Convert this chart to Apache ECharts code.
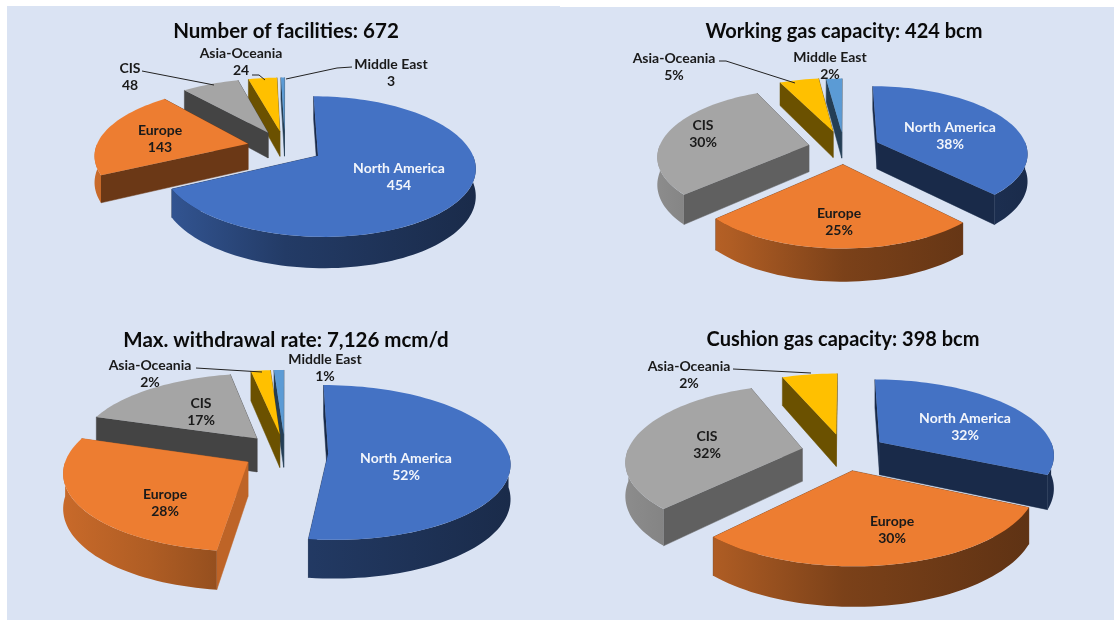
<!DOCTYPE html>
<html><head><meta charset="utf-8">
<style>html,body{margin:0;padding:0;background:#fff}#c{width:1114px;height:620px}</style>
<script src="https://cdn.jsdelivr.net/npm/echarts@6/dist/echarts.min.js"></script>
</head><body><div id="c"></div>
<script>
const categories = ['North America','Europe','CIS','Asia-Oceania','Middle East'];
const sliceColors = ['#4472C4','#ED7D31','#A5A5A5','#FFC000','#5B9BD5'];
const titles = ['Number of facilities: 672','Working gas capacity: 424 bcm','Max. withdrawal rate: 7,126 mcm/d','Cushion gas capacity: 398 bcm'];
// slice sizes
const facilities = [454,143,48,24,3];
const workingGas = [38,25,30,5,2];
const withdrawal = [52,28,17,2,1];
const cushionGas = [32,30,32,6]; // the yellow slice is drawn wider than its printed 2%
// value text as printed
const facilitiesText = ['454','143','48','24','3'];
const workingGasText = ['38%','25%','30%','5%','2%'];
const withdrawalText = ['52%','28%','17%','2%','1%'];
const cushionGasText = ['32%','30%','32%','2%'];

// layout of each 3D pie: projection centre, radii, perspective, depth, explosion
const layouts = [
 {cx:285,cy:147,rx:152,ry:66,p:.15,depth:26,explode:[.25,.25,.25,.25,.25],wall:[.38,.45,.41,.42,.4]},
 {cx:844,cy:148,rx:150,ry:66,p:.15,depth:27,explode:[.24,.24,.24,.27,.25],wall:[.37,.45,.58,.42,.4]},
 {cx:285,cy:452,rx:180,ry:76,p:.12,depth:34,explode:[.24,.24,.24,.24,.24],wall:[.37,.8,.41,.42,.4]},
 {cx:844,cy:452,rx:175,ry:75,p:.15,depth:33,explode:[.245,.245,.245,.245],wall:[.37,.45,.58,.42]}
];
const titlePos = [[286,31],[844,32],[286,340],[843,340]];
const titleSize = [20.5,20,20.5,20];
const labelPos = [
 [[399,168],[160,130],[130,68],[241,53],[391,64]],
 [[950,127],[839,213],[703,125],[674,58],[830,57]],
 [[406,458],[165,494],[201,403],[150,365],[325,359]],
 [[965,418],[892,521],[707,436],[689,366]]
];
const leaders = [
 [[[142,71],[214,85]],[[252,75],[259,75],[265,80]],[[352,67],[337,68],[286,79]]],
 [[[719,61],[726,61],[795,83]]],
 [[[196,368],[262,372]]],
 [[[733,369],[811,373]]]
];
const shares = [facilities,workingGas,withdrawal,cushionGas];
const texts = [facilitiesText,workingGasText,withdrawalText,cushionGasText];
const DEG = Math.PI/180;

function shade(hex,b){
  const n=parseInt(hex.slice(1),16);
  const f=s=>Math.round(((n>>s)&255)*b);
  return `rgb(${f(16)},${f(8)},${f(0)})`;
}
function rimBright(t){
  const k=[[-1,.85],[-.6,.74],[0,.52],[1,.38]];
  for(let i=1;i<k.length;i++) if(t<=k[i][0]){
    const a=k[i-1],b=k[i];return a[1]+(b[1]-a[1])*(t-a[0])/(b[0]-a[0]);
  }
  return .38;
}
function makeSeries(pi){
  const values=shares[pi], L=layouts[pi];
  const total=values.reduce((a,b)=>a+b,0);
  let acc=0;
  const rows=values.map((v,i)=>{const s=acc/total*360;acc+=v;const e=acc/total*360;return [i,s,e,v];});
  const order=rows.slice().sort((a,b)=>-Math.cos((a[1]+a[2])/2*DEG)+Math.cos((b[1]+b[2])/2*DEG));
  return {
    type:'custom',coordinateSystem:'none',silent:true,animation:false,
    data:order,
    encode:{value:3},
    renderItem(params,api){
      const i=api.value(0),s=api.value(1),e=api.value(2),m=(s+e)/2*DEG;
      const E=L.explode[i],ox=E*Math.sin(m),oy=-E*Math.cos(m);
      const proj=(u,v,d)=>{const sc=1/(1-L.p*v);return [L.cx+L.rx*u*sc,L.cy+L.ry*v*sc+(d||0)*sc];};
      const pt=(deg,r,d)=>proj(ox+r*Math.sin(deg*DEG),oy-r*Math.cos(deg*DEG),d);
      const col=sliceColors[i];
      const arc=[];const n=Math.max(2,Math.ceil((e-s)/2));
      for(let k=0;k<=n;k++) arc.push(s+(e-s)*k/n);
      const top=[pt(s,0)].concat(arc.map(a=>pt(a,1)));
      const kids=[];
      const wallFill=shade(col,L.wall[i]);
      const wall=a=>({type:'polygon',shape:{points:[pt(a,0),pt(a,1),pt(a,1,L.depth),pt(a,0,L.depth)]},style:{fill:wallFill,stroke:wallFill,lineWidth:.5}});
      const nS=-Math.cos((s-90)*DEG), nE=-Math.cos((e+90)*DEG);
      if(nS<nE){kids.push(wall(s),wall(e));} else {kids.push(wall(e),wall(s));}
      const a0=Math.max(s,90),a1=Math.min(e,270);
      if(a1>a0){
        const rimA=[];const m2=Math.ceil((a1-a0)/2);
        for(let k=0;k<=m2;k++) rimA.push(a0+(a1-a0)*k/m2);
        const up=rimA.map(a=>pt(a,1)),dn=rimA.map(a=>pt(a,1,L.depth)).reverse();
        const x0=L.cx-L.rx*1.25,x1=L.cx+L.rx*1.25;
        const stops=[0,.2,.5,1].map((o)=>({offset:o,color:shade(col,rimBright(o*2-1))}));
        kids.push({type:'polygon',shape:{points:up.concat(dn)},style:{fill:new echarts.graphic.LinearGradient(x0,0,x1,0,stops,true)}});
      }
      kids.push({type:'polygon',shape:{points:top},style:{fill:col}});
      return {type:'group',children:kids};
    }
  };
}
const textEls=[];
const ink='#1a1a1a';
titles.forEach((t,i)=>textEls.push({type:'text',x:titlePos[i][0],y:titlePos[i][1],z:20,style:{text:t,fill:'#0a0a0a',font:`bold ${titleSize[i]}px Lato`,textAlign:'center',textVerticalAlign:'middle'}}));
labelPos.forEach((P,pi)=>P.forEach((q,i)=>{
  const fill=i===0?'#f2f5fb':ink;
  [categories[i],texts[pi][i]].forEach((t,j)=>textEls.push({type:'text',x:q[0],y:q[1]+j*17.3,z:20,style:{text:t,fill,font:'bold 14px Lato',textAlign:'center',textVerticalAlign:'middle'}}));
}));
leaders.forEach(G=>G.forEach(pts=>textEls.push({type:'polyline',z:19,shape:{points:pts},style:{stroke:'#222',lineWidth:1,fill:null}})));
const panels=[{x:7,y:6,w:553,h:614},{x:560,y:7,w:554,h:613}].map(r=>({type:'rect',z:-5,silent:true,shape:{x:r.x,y:r.y,width:r.w,height:r.h},style:{fill:'#DAE3F3'}}));

const chart=echarts.init(document.getElementById('c'),null,{renderer:'canvas'});
chart.setOption({
  animation:false,backgroundColor:'#fff',
  graphic:{elements:panels.concat(textEls)},
  series:shares.map((_,i)=>makeSeries(i))
});
</script></body></html>
